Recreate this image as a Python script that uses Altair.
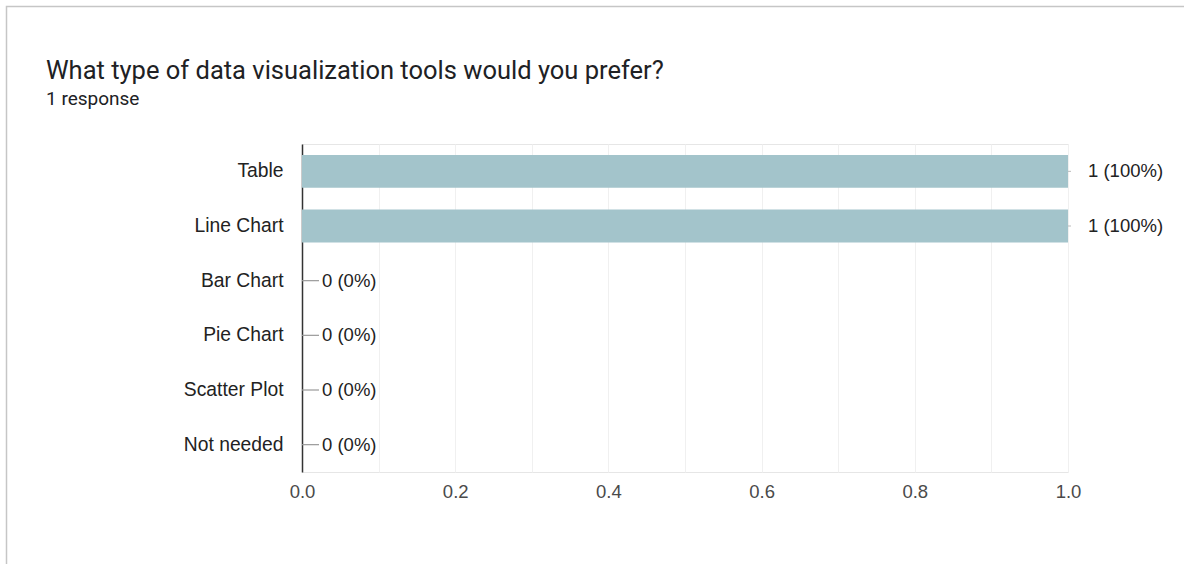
import altair as alt
import pandas as pd

# Survey question and responses
question = "What type of data visualization tools would you prefer?"
subtitle = "1 response"
options = ["Table", "Line Chart", "Bar Chart", "Pie Chart", "Scatter Plot", "Not needed"]
counts = [1, 1, 0, 0, 0, 0]
total_responses = 1
x_ticks = [0.0, 0.1, 0.2, 0.3, 0.4, 0.5, 0.6, 0.7, 0.8, 0.9, 1.0]

df = pd.DataFrame({
    "option": options,
    "count": counts,
    "label": [f"{c} ({round(100 * c / total_responses)}%)" for c in counts],
})

LABEL_FONT = "Liberation Sans"
TITLE_FONT = "Roboto"
PLOT_W, PLOT_H = 766, 328
PAD = {"left": 302, "top": 144, "right": 1184 - 302 - PLOT_W, "bottom": 564 - 144 - PLOT_H}

y_enc = alt.Y(
    "option:N",
    sort=options,
    title=None,
    scale=alt.Scale(paddingInner=0.4, paddingOuter=0.2),
    axis=alt.Axis(
        domain=True, domainColor="#333333", domainWidth=1.5,
        ticks=False, labelPadding=19, labelFontSize=19.3, labelColor="#222222",
        labelFont=LABEL_FONT, grid=False,
    ),
)
x_enc = alt.X(
    "count:Q",
    title=None,
    scale=alt.Scale(domain=[0, 1], nice=False),
    axis=alt.Axis(
        values=x_ticks, domain=False, ticks=False, labelFlush=False, labelBound=False,
        labelExpr="round(datum.value * 10) % 2 == 0 ? format(datum.value, '.1f') : ''",
        labelFontSize=18.5, labelColor="#4a4a4a", labelFont=LABEL_FONT, labelPadding=10,
        grid=True, gridColor="#f0f0f0", gridWidth=1,
    ),
)

base = alt.Chart(df)

bars = base.mark_bar(color="#a3c4cb").encode(x=x_enc, y=y_enc)

# Short leader stems next to each value label
zero_stems = base.transform_filter("datum.count == 0").mark_rule(
    color="#999999", strokeWidth=1.2, x2Offset=17
).encode(x="count:Q", x2="count:Q", y=alt.Y("option:N", sort=options))
end_stems = base.transform_filter("datum.count > 0").mark_rule(
    color="#bbbbbb", strokeWidth=1, x2Offset=3
).encode(x="count:Q", x2="count:Q", y=alt.Y("option:N", sort=options))

value_labels = base.mark_text(
    align="left", baseline="middle", dx=20, fontSize=18.5, color="#222222", font=LABEL_FONT
).encode(x="count:Q", y=alt.Y("option:N", sort=options), text="label:N")

# Heading and response count
heading = alt.Chart(alt.Data(values=[{"t": question}])).mark_text(
    align="left", baseline="alphabetic", font=TITLE_FONT, fontSize=25.5, color="#202124"
).encode(x=alt.value(46 - PAD["left"]), y=alt.value(79 - PAD["top"]), text="t:N")
sub = alt.Chart(alt.Data(values=[{"t": subtitle}])).mark_text(
    align="left", baseline="alphabetic", font=TITLE_FONT, fontSize=19, color="#202124"
).encode(x=alt.value(46 - PAD["left"]), y=alt.value(105 - PAD["top"]), text="t:N")

# Card outline
card = alt.Chart(alt.Data(values=[{}])).mark_rect(
    filled=False, stroke="#c6c6c6", strokeWidth=1.5
).encode(
    x=alt.value(6.5 - PAD["left"]), x2=alt.value(1184 + 20 - PAD["left"]),
    y=alt.value(6.5 - PAD["top"]), y2=alt.value(564 + 20 - PAD["top"]),
)

chart = alt.layer(card, bars, zero_stems, end_stems, value_labels, heading, sub).properties(
    width=PLOT_W, height=PLOT_H,
    autosize=alt.AutoSizeParams(type="none"),
    padding=PAD,
    background="white",
).configure_view(stroke="#e6e6e6", strokeWidth=1)

chart.save("out.html", embed_options={"renderer": "svg", "actions": False})
